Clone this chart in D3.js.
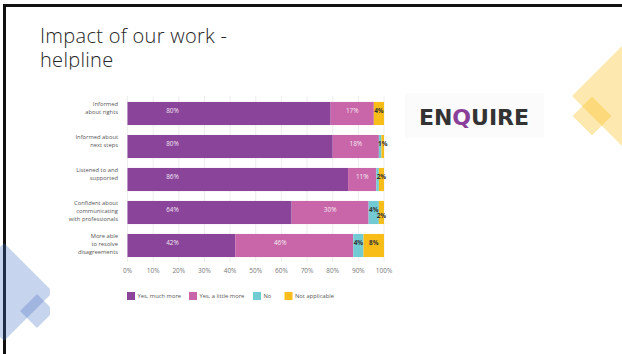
<!DOCTYPE html>
<html lang="en">
<head>
    <meta charset="UTF-8"/>
    <title>Impact of our work - helpline</title>
    <script src="https://d3js.org/d3.v7.min.js"></script>
    <style>
        body, html {
            margin: 0;
            padding: 0;
            background: #fff;
            overflow: hidden;
        }
        svg { display: block; }
    </style>
</head>
<body>
<svg id="slide" width="622" height="354"></svg>
<script>
    // chart data
    const categories = [
        "Informed|about rights",
        "Informed about|next steps",
        "Listened to and|supported",
        "Confident about|communicating|with professionals",
        "More able|to resolve|disagreements"
    ];
    const seriesNames = ["Yes, much more", "Yes, a little more", "No", "Not applicable"];
    const muchMore = [80, 80, 86, 64, 42];
    const littleMore = [17, 18, 11, 30, 46];
    const no = [0, 1, 1, 4, 4];
    const notApplicable = [4, 1, 2, 2, 8];
    const xTicks = [0, 10, 20, 30, 40, 50, 60, 70, 80, 90, 100];

    const colors = ["#8a4499", "#c866a9", "#72cbd3", "#f9bd1a"];
    const labelColors = ["#f1e6f4", "#f7e9f3", "#333", "#333"];
    const chartFont = "'Open Sans', sans-serif";

    const svg = d3.select("#slide");

    // slide frame (left + top edge)
    svg.append("rect").attr("x", 3).attr("y", 4).attr("width", 619).attr("height", 3).attr("fill", "#111");
    svg.append("rect").attr("x", 3).attr("y", 4).attr("width", 3).attr("height", 350).attr("fill", "#111");

    // decorative diamonds
    function diamond(cx, cy, r, fill, op) {
        svg.append("path")
            .attr("d", `M${cx - r},${cy}L${cx},${cy - r}L${cx + r},${cy}L${cx},${cy + r}Z`)
            .attr("fill", fill)
            .attr("fill-opacity", op);
    }
    diamond(622, 96, 50, "#f9bd1a", 0.35);
    diamond(592, 116, 19.5, "#f9bd1a", 0.35);
    diamond(4, 292, 49, "#4472c4", 0.3);
    diamond(37, 311, 17, "#4472c4", 0.3);

    // title
    const title = svg.append("text")
        .attr("font-family", "'Open Sans', sans-serif")
        .attr("font-weight", 300)
        .attr("font-size", 20)
        .attr("letter-spacing", 0.3)
        .attr("fill", "#262626");
    title.append("tspan").attr("x", 40).attr("y", 43).text("Impact of our work -");
    title.append("tspan").attr("x", 40).attr("y", 67).text("helpline");

    // chart image area (white, covers title bottom / diamonds)
    svg.append("rect").attr("x", 50).attr("y", 69.5).attr("width", 350).attr("height", 260).attr("fill", "#fff");

    // logo
    svg.append("rect").attr("x", 405).attr("y", 93).attr("width", 139).attr("height", 45).attr("fill", "#fbfbfb");
    const logo = svg.append("text")
        .attr("x", 474).attr("y", 125)
        .attr("text-anchor", "middle")
        .attr("font-family", "'DejaVu Sans', sans-serif")
        .attr("font-weight", "bold")
        .attr("font-size", 22)
        .attr("fill", "#333");
    logo.append("tspan").text("EN");
    logo.append("tspan").attr("fill", "#8a3f98").text("Q");
    logo.append("tspan").text("UIRE");

    // stacked bars
    const stacked = categories.map((c, i) => {
        const vals = [muchMore[i], littleMore[i], no[i], notApplicable[i]];
        const total = d3.sum(vals);
        let acc = 0;
        return vals.map((v, k) => {
            const s = { cat: c, key: k, v: v, x0: acc / total * 100, x1: (acc + v) / total * 100 };
            acc += v;
            return s;
        });
    });

    const x = d3.scaleLinear().domain([0, 100]).range([127.5, 384]);
    const y = d3.scaleBand().domain(categories).range([97, 262]).paddingInner(0.3).paddingOuter(0.15);

    const chart = svg.append("g");

    chart.append("g")
        .selectAll("line")
        .data(xTicks)
        .join("line")
        .attr("x1", d => x(d)).attr("x2", d => x(d))
        .attr("y1", 96).attr("y2", 262)
        .attr("stroke", "#e8e8e8")
        .attr("stroke-width", 0.8);

    const rows = chart.selectAll("g.row")
        .data(stacked)
        .join("g")
        .attr("class", "row");

    rows.selectAll("rect")
        .data(d => d.filter(s => s.v > 0))
        .join("rect")
        .attr("x", d => x(d.x0))
        .attr("y", d => y(d.cat))
        .attr("width", d => x(d.x1) - x(d.x0))
        .attr("height", y.bandwidth())
        .attr("fill", d => colors[d.key]);

    // value labels, nudged down when they crowd the previous one
    rows.selectAll("text")
        .data(d => {
            const nz = d.filter(s => s.v > 0);
            const last = nz[nz.length - 1];
            const shown = nz.filter(s => s.v >= 2 || s === last);
            let prevX = -100;
            shown.forEach(s => {
                const w = x(s.x1) - x(s.x0);
                s.lx = x(s.x0) + Math.min(w / 2, 45);
                s.shift = s.lx - prevX < 11 ? 5.5 : 0;
                prevX = s.lx;
            });
            return shown;
        })
        .join("text")
        .attr("x", d => d.lx)
        .attr("y", d => y(d.cat) + y.bandwidth() / 2 - 2.5 + d.shift)
        .attr("dy", "0.35em")
        .attr("text-anchor", "middle")
        .attr("font-family", chartFont)
        .attr("font-size", 6.4)
        .attr("font-weight", d => d.key >= 2 ? "bold" : "normal")
        .attr("fill", d => labelColors[d.key])
        .text(d => d.v + "%");

    // category labels
    chart.append("g")
        .selectAll("text")
        .data(categories)
        .join("text")
        .attr("text-anchor", "end")
        .attr("font-family", chartFont)
        .attr("font-size", 5.8)
        .attr("fill", "#555")
        .each(function (c) {
            const lines = c.split("|");
            d3.select(this).selectAll("tspan")
                .data(lines)
                .join("tspan")
                .attr("x", 118)
                .attr("y", (l, i) => y(c) + 4 + i * 8);
        })
        .selectAll("tspan")
        .text(l => l);

    // x axis labels
    chart.append("g")
        .selectAll("text")
        .data(xTicks)
        .join("text")
        .attr("x", d => x(d))
        .attr("y", 273)
        .attr("text-anchor", "middle")
        .attr("font-family", chartFont)
        .attr("font-size", 6.5)
        .attr("fill", "#777")
        .text(d => d + "%");

    // legend
    const legendX = [127, 189, 253, 284.5];
    const legend = chart.append("g")
        .selectAll("g")
        .data(seriesNames)
        .join("g")
        .attr("transform", (d, i) => `translate(${legendX[i]},292)`);
    legend.append("rect")
        .attr("width", 8).attr("height", 8)
        .attr("fill", (d, i) => colors[i]);
    legend.append("text")
        .attr("x", 10.5).attr("y", 4)
        .attr("dy", "0.35em")
        .attr("font-family", chartFont)
        .attr("font-size", 5.8)
        .attr("fill", "#555")
        .text(d => d);
</script>
</body>
</html>
